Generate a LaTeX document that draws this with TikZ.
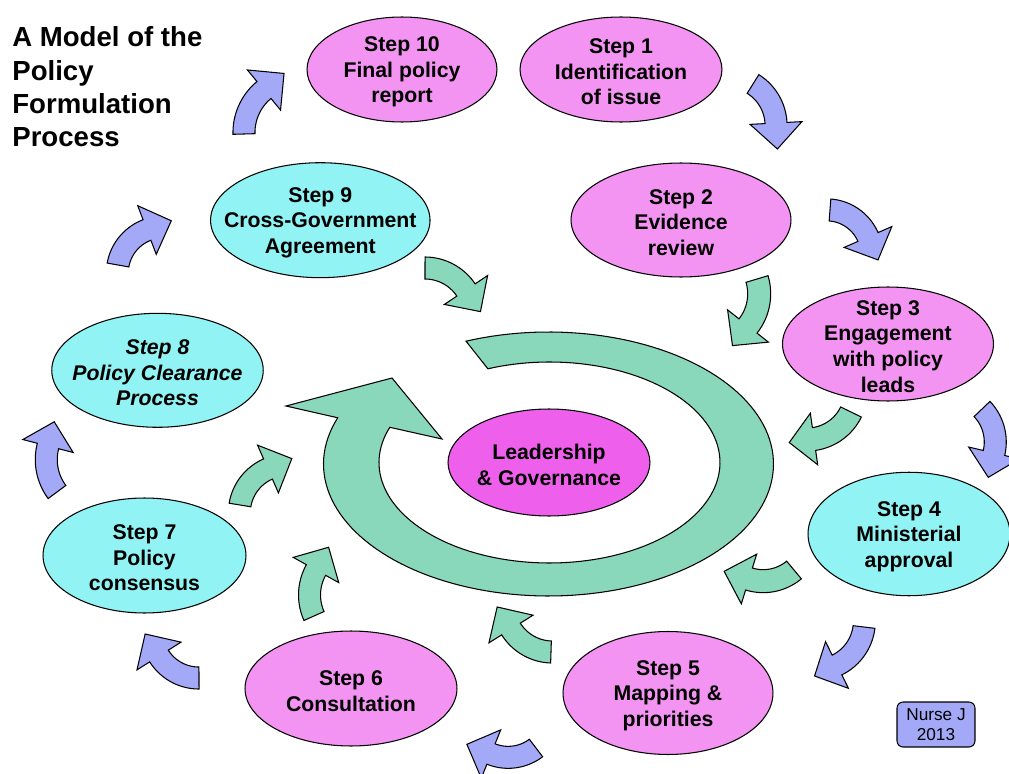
\documentclass[tikz,border=0pt]{standalone}
\usepackage{fontspec}
\setmainfont{Liberation Sans}
\usetikzlibrary{shapes.geometric}
\definecolor{pinkf}{RGB}{244,148,242}
\definecolor{cyanf}{RGB}{145,243,243}
\definecolor{magf}{RGB}{238,96,236}
\definecolor{bluef}{RGB}{164,169,247}
\definecolor{greenf}{RGB}{138,216,188}
% curved block arrow: style, tail x, tail y, head-base x, head-base y, turn angle, half band width, half head width, head length
\newcommand\carr[9]{%
  \pgfmathsetmacro\cdX{#4-(#2)}%
  \pgfmathsetmacro\cdY{#5-(#3)}%
  \pgfmathsetmacro\cchd{veclen(\cdX,\cdY)}%
  \pgfmathsetmacro\calp{atan2(\cdY,\cdX)}%
  \pgfmathsetmacro\crad{\cchd/(2*sin((#6)/2))}%
  \pgfmathsetmacro\cCx{#2+\crad*cos(\calp-(#6)/2+90)}%
  \pgfmathsetmacro\cCy{#3+\crad*sin(\calp-(#6)/2+90)}%
  \pgfmathsetmacro\cbA{atan2(#3-(\cCy),#2-(\cCx))}%
  \pgfmathsetmacro\cR{abs(\crad)}%
  \pgfmathsetmacro\cTx{#4+#9*cos(\calp+(#6)/2)}%
  \pgfmathsetmacro\cTy{#5+#9*sin(\calp+(#6)/2)}%
  \draw[#1] plot[domain=0:1,samples=25] ({\cCx+(\cR+#7)*cos(\cbA+\x*#6)},{\cCy+(\cR+#7)*sin(\cbA+\x*#6)})
    -- ({\cCx+(\cR+#8)*cos(\cbA+#6)},{\cCy+(\cR+#8)*sin(\cbA+#6)})
    -- (\cTx,\cTy)
    -- ({\cCx+(\cR-#8)*cos(\cbA+#6)},{\cCy+(\cR-#8)*sin(\cbA+#6)})
    -- plot[domain=0:1,samples=25] ({\cCx+(\cR-#7)*cos(\cbA+(1-\x)*#6)},{\cCy+(\cR-#7)*sin(\cbA+(1-\x)*#6)})
    -- cycle;}
\begin{document}
\begin{tikzpicture}[x=0.02cm,y=-0.02cm,
  ol/.style={draw=black,line width=0.6pt,line join=miter},
  blu/.style={ol,fill=bluef},
  grn/.style={ol,fill=greenf},
  ell/.style={ellipse,ol,inner sep=0pt},
  stxt/.style={align=center,inner sep=0pt,yshift=-0.05cm,font=\bfseries\fontsize{12.1}{14.6}\selectfont}]
\useasboundingbox (0,0) rectangle (1009,774);
\fill[white] (0,0) rectangle (1009,774);
\clip (0,0) rectangle (1009,774);

% big ring arrow
\draw[grn] plot[domain=248.5:560.5,samples=140] ({548.5+225*cos(\x)},{464+132*sin(\x)})
  -- (286,406) -- (392,378) -- (442,439)
  -- plot[domain=0:1,samples=140] ({549.5+170.5*cos(560.5-312*\x)},{462.5+100.5*sin(560.5-312*\x)})
  -- cycle;

% outer cycle arrows (blue)
\carr{blu}{244}{134}{264}{90}{52}{11}{26}{26}
\carr{blu}{753}{84}{776}{123}{55}{11}{26}{26}
\carr{blu}{830}{210}{868}{237}{62}{11}{26}{25}
\carr{blu}{982}{409}{994}{453}{57}{11}{26}{25}
\carr{blu}{864}{627}{837}{665}{57}{11}{26}{25}
\carr{blu}{536}{748}{491}{754}{59}{11}{26}{26}
\carr{blu}{199}{678}{159}{656}{58}{11}{26}{26}
\carr{blu}{57}{492}{48}{446}{51}{11}{26}{25}
\carr{blu}{118}{265}{147}{230}{59}{11}{26}{26}

% inner arrows (green)
\carr{grn}{425}{268}{466}{290}{56}{11}{26}{26}
\carr{grn}{757}{279}{748}{326}{55}{11.5}{26}{25}
\carr{grn}{851}{412}{814}{439}{56}{11.5}{26}{25}
\carr{grn}{794}{570}{749}{579}{57}{11.5}{26}{26}
\carr{grn}{551}{652}{511}{629}{56}{11}{26}{26}
\carr{grn}{314}{616}{316}{570}{53}{11}{26}{26}
\carr{grn}{240}{505}{268}{469}{57}{11}{26}{26}

% ellipses
\node[ell,fill=pinkf,minimum width=3.80cm,minimum height=2.10cm] (s10) at (402,69.5) {};
\node[stxt] (t10) at (s10) {Step 10\\Final policy\\report};
\node[ell,fill=pinkf,minimum width=4.04cm,minimum height=2.10cm] (s1) at (621,69.5) {};
\node[stxt] (t1) at (s1) {Step 1\\Identification\\of issue};
\node[ell,fill=pinkf,minimum width=4.40cm,minimum height=2.28cm] (s2) at (681,220) {};
\node[stxt] (t2) at (s2) {Step 2\\Evidence\\review};
\node[ell,fill=pinkf,minimum width=4.22cm,minimum height=2.28cm] (s3) at (888,344) {};
\node[stxt] (t3) at (s3) {Step 3\\Engagement\\with policy\\leads};
\node[ell,fill=cyanf,minimum width=4.04cm,minimum height=2.47cm] (s4) at (909,534) {};
\node[stxt] (t4) at (s4) {Step 4\\Ministerial\\approval};
\node[ell,fill=pinkf,minimum width=4.20cm,minimum height=2.46cm] (s5) at (668,693) {};
\node[stxt] (t5) at (s5) {Step 5\\Mapping \&\\priorities};
\node[ell,fill=pinkf,minimum width=4.24cm,minimum height=2.30cm] (s6) at (351,688.5) {};
\node[stxt] (t6) at (s6) {Step 6\\Consultation};
\node[ell,fill=cyanf,minimum width=4.06cm,minimum height=2.30cm] (s7) at (144.5,555.5) {};
\node[stxt] (t7) at (s7) {Step 7\\Policy\\consensus};
\node[ell,fill=cyanf,minimum width=4.23cm,minimum height=2.28cm] (s8) at (157.5,370.3) {};
\node[stxt,font=\bfseries\itshape\fontsize{12.1}{14.6}\selectfont] (t8) at (s8) {Step 8\\Policy Clearance\\Process};
\node[ell,fill=cyanf,minimum width=4.39cm,minimum height=2.30cm] (s9) at (320.3,220.2) {};
\node[stxt] (t9) at (s9) {Step 9\\Cross-Government\\Agreement};
\node[ell,fill=magf,minimum width=4.04cm,minimum height=2.14cm] (lead) at (549,462.5) {};
\node[stxt] (tl) at (lead) {Leadership\\\& Governance};

% title
\node[anchor=north west,align=left,inner sep=0pt,font=\bfseries\fontsize{15.7}{19}\selectfont] (title) at (12,26.5) {A Model of the\\Policy\\Formulation\\Process};

% credit box
\node[draw,fill=bluef,line width=0.6pt,rounded corners=3.5pt,minimum width=1.56cm,minimum height=0.9cm,inner sep=0pt,align=center,font=\fontsize{9.8}{12}\selectfont] (nurse) at (936,724.5) {\raisebox{-0.5pt}{Nurse J}\\2013};
\end{tikzpicture}
\end{document}
